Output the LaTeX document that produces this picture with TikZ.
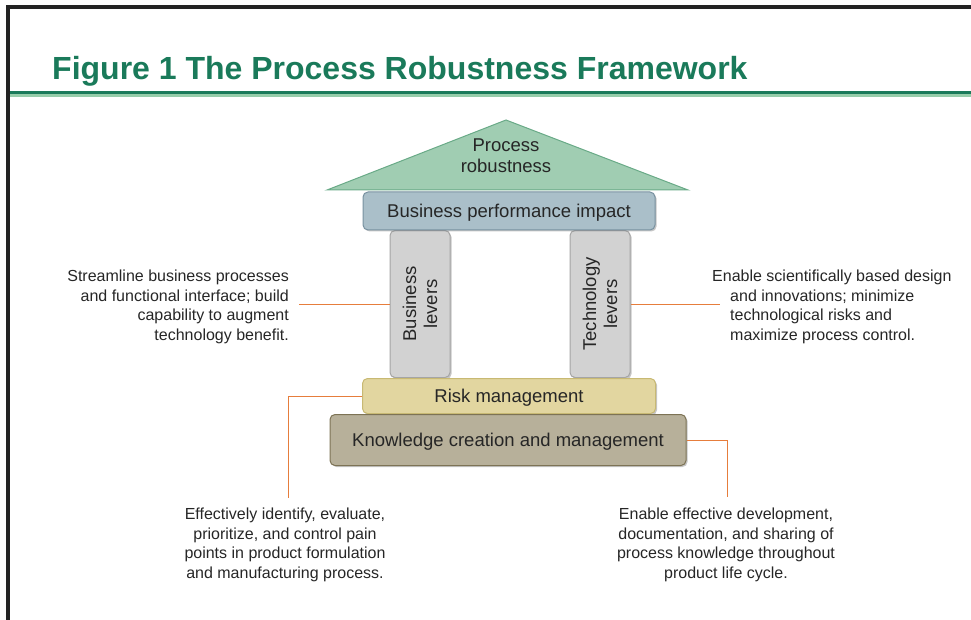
\documentclass[tikz,border=0pt]{standalone}
\usepackage{fontspec}
\setmainfont{Liberation Sans}
\usetikzlibrary{shadows}

\definecolor{titlegreen}{RGB}{26,122,90}
\definecolor{rulelight}{RGB}{150,205,170}
\definecolor{framegray}{RGB}{35,35,35}
\definecolor{roofgreen}{RGB}{160,205,178}
\definecolor{roofedge}{RGB}{105,170,135}
\definecolor{bpiblue}{RGB}{170,191,201}
\definecolor{bpiedge}{RGB}{120,145,160}
\definecolor{levgray}{RGB}{210,210,210}
\definecolor{levedge}{RGB}{165,165,165}
\definecolor{riskyellow}{RGB}{226,214,160}
\definecolor{riskedge}{RGB}{200,185,115}
\definecolor{knowtan}{RGB}{183,176,154}
\definecolor{knowedge}{RGB}{125,115,85}
\definecolor{leadorange}{RGB}{230,125,60}

\begin{document}
\begin{tikzpicture}[x=1pt,y=-1pt,
    slab/.style={draw, line width=1pt, rounded corners=5pt, inner sep=0pt,
      font=\fontsize{18.5}{21}\selectfont, text=black!85,
      drop shadow={shadow xshift=1.5pt, shadow yshift=-1.5pt, opacity=.45}},
    lever/.style={slab, fill=levgray, draw=levedge, minimum width=147,
      minimum height=60, align=center, rotate=90},
    note/.style={inner sep=0pt, font=\fontsize{16}{19.6}\selectfont, text=black!85},
    lead/.style={draw=leadorange, line width=.8pt}]
  \useasboundingbox (0,0) rectangle (971,620);
  % frame and heading
  \draw[framegray, line width=3.5pt] (8,625) -- (8,7) -- (975,7);
  \node[anchor=base west, inner sep=0pt, text=titlegreen,
    font=\fontsize{32}{32}\bfseries] (title) at (52,80)
    {Figure 1 The Process Robustness Framework};
  \fill[rulelight] (10,94) rectangle (971,97.5);
  \fill[titlegreen] (10,91) rectangle (971,94);

  % pillars
  \node[lever] (bizlev) at (420,304) {Business\\levers};
  \node[lever] (techlev) at (600,304) {Technology\\levers};

  % base slabs
  \node[slab, fill=riskyellow, draw=riskedge, minimum width=293,
    minimum height=35, text depth=0pt] (risk) at (509,396) {Risk management};
  \node[slab, fill=knowtan, draw=knowedge, minimum width=356,
    minimum height=51, text depth=0pt] (know) at (508,440)
    {Knowledge creation and management};

  % top slab and roof
  \node[slab, fill=bpiblue, draw=bpiedge, minimum width=292,
    minimum height=38, text depth=0pt] (bpi) at (509,211)
    {Business performance impact};
  \filldraw[fill=roofgreen, draw=roofedge, line width=1pt]
    (327,190) -- (506,120) -- (688,190) -- cycle;
  \node[align=center, inner sep=0pt, font=\fontsize{18.5}{21}\selectfont,
    text=black!85] (roof) at (506,156) {Process\\robustness};

  % notes
  \node[note, anchor=east, align=right] (bizn) at (289,307)
    {Streamline business processes\\and functional interface; build\\
     capability to augment\\technology benefit.};
  \node[note, anchor=west, align=left] (techn) at (712,307)
    {Enable scientifically based design\\
     \hspace*{18pt}and innovations; minimize\\
     \hspace*{18pt}technological risks and\\
     \hspace*{18pt}maximize process control.};
  \node[note, align=center] (riskn) at (285,545)
    {Effectively identify, evaluate,\\prioritize, and control pain\\
     points in product formulation\\and manufacturing process.};
  \node[note, align=center] (known) at (726,545)
    {Enable effective development,\\documentation, and sharing of\\
     process knowledge throughout\\product life cycle.};

  % leader lines (north/south of a turned lever face west/east)
  \coordinate (bizend) at (299,304);
  \coordinate (techend) at (720,304);
  \coordinate (riskend) at (288,498);
  \coordinate (knowend) at (727,497);
  \draw[lead] (bizlev.north) -- (bizend);
  \draw[lead] (techlev.south) -- (techend);
  \draw[lead] (risk.west) -| (riskend);
  \draw[lead] (know.east) -| (knowend);
\end{tikzpicture}
\end{document}
